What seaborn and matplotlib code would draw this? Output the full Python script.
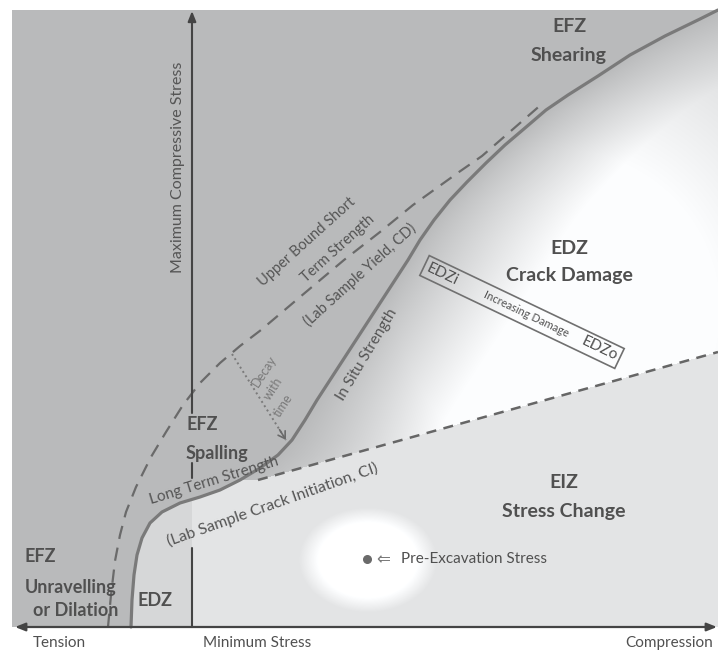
import numpy as np
import matplotlib
matplotlib.use("Agg")
import matplotlib.pyplot as plt
import seaborn as sns
from matplotlib.patches import Polygon

sns.set_theme(style="white")
plt.rcParams["font.family"] = ["Lato", "DejaVu Sans"]

W, H = 718, 657          # canvas in pixels (x right, y down)
AXIS_Y = 627             # minimum-stress axis
AXIS_X = 192             # maximum-compressive-stress axis
TOP_Y = 10
LEFT_X = 12

# In situ strength envelope (solid), from the tension end upward
insitu_x = [131, 132, 134, 137, 142, 150, 162, 180, 200, 220, 240, 260, 278,
            292, 305, 317, 330, 343, 356, 369, 382, 395, 408, 420, 434, 450,
            467, 486, 505, 525, 546, 568, 598, 630, 665, 700, 718]
insitu_y = [627, 600, 575, 555, 538, 523, 512, 503, 497, 490, 480, 468, 455,
            440, 420, 400, 380, 360, 340, 320, 300, 280, 260, 240, 220, 200,
            182, 163, 145, 128, 110, 95, 76, 55, 36, 19, 10]

# Upper bound short term strength (lab sample yield, CD)
upper_x = [108, 111, 115, 120, 126, 136, 151, 166, 183, 200, 220, 240, 261,
           300, 344, 380, 413, 459, 482, 512, 543]
upper_y = [627, 595, 561, 535, 512, 487, 457, 432, 405, 383, 363, 346, 330,
           297, 260, 232, 205, 172, 156, 130, 103]

# Long term strength (lab sample crack initiation, CI)
ci_x = [258, 718]
ci_y = [480, 352]

# Strength decay with time
decay_x = [232, 286]
decay_y = [354, 440]

# Pre-excavation stress state
pre_x, pre_y = 367, 559

# Axis labels
tick_labels = ["Tension", "Minimum Stress", "Compression"]
tick_pos = [59, 257, 669]

# ---------------------------------------------------------------- background
yy, xx = np.mgrid[0:H, 0:W].astype(float) + 0.5
cx = np.interp(yy, insitu_y[::-1], insitu_x[::-1])
ci_line = np.interp(xx, ci_x, ci_y)

inside = (yy >= TOP_Y) & (yy <= AXIS_Y) & (xx >= LEFT_X)
left = xx < cx
edz = inside & ~left & (yy < ci_line)
eiz = inside & ~left & (yy >= ci_line)

G = 185.0
val = np.full((H, W), 255.0)
val[inside & left] = G

d = xx - cx
f = np.clip(d / 140.0, 0, 1) ** 0.9
r = np.hypot(xx - 560, yy - 310)
w = 1 - 0.7 * np.clip((r - 160) / 220.0, 0, 1)
val[edz] = (G + (252 - G) * f * w)[edz]

eiz_val = np.where(xx < AXIS_X, 214.0, 227.0)
e = np.sqrt(((xx - 368) / 66.0) ** 2 + ((yy - 560) / 50.0) ** 2)
a = np.clip((1.05 - e) / 0.3, 0, 1)
eiz_val = eiz_val * (1 - a) + 255 * a
val[eiz] = eiz_val[eiz]

rgb = np.stack([val, np.minimum(val + 1, 255), np.minimum(val + 2, 255)], axis=-1)

fig = plt.figure(figsize=(W / 100, H / 100), dpi=100)
ax = fig.add_axes([0, 0, 1, 1])
ax.imshow(rgb.astype(np.uint8), extent=(0, W, H, 0), interpolation="bilinear")

# ---------------------------------------------------------------- envelopes
sns.lineplot(x=insitu_x, y=insitu_y, sort=False, estimator=None, ax=ax,
             color="#7a7a7a", linewidth=2.3, solid_joinstyle="round")
sns.lineplot(x=upper_x, y=upper_y, sort=False, estimator=None, ax=ax,
             color="#6a6a6a", linewidth=1.6, linestyle=(0, (6, 4)))
sns.lineplot(x=ci_x, y=ci_y, sort=False, estimator=None, ax=ax,
             color="#666666", linewidth=1.8, linestyle=(0, (4, 3)))

# decay with time (dotted arrow)
ax.plot(decay_x, decay_y, color="#7a7a7a", linewidth=1.4, linestyle=(0, (1, 1.6)))
ax.annotate("", xy=(decay_x[1], decay_y[1]),
            xytext=(decay_x[1] - 0.12 * (decay_x[1] - decay_x[0]),
                    decay_y[1] - 0.12 * (decay_y[1] - decay_y[0])),
            arrowprops=dict(arrowstyle="->,head_length=0.4,head_width=0.25",
                            color="#6a6a6a", lw=1.2, shrinkA=0, shrinkB=0))

# ---------------------------------------------------------------- axes
ax.annotate("", xy=(15, AXIS_Y), xytext=(717, AXIS_Y),
            arrowprops=dict(arrowstyle="<|-|>,head_length=0.5,head_width=0.2",
                            color="#444444", lw=1.6, shrinkA=0, shrinkB=0))
ax.annotate("", xy=(AXIS_X, TOP_Y + 1), xytext=(AXIS_X, 413),
            arrowprops=dict(arrowstyle="-|>,head_length=0.5,head_width=0.2",
                            color="#444444", lw=1.5, shrinkA=0, shrinkB=0))
for y0, y1 in [(463, 478), (548, AXIS_Y)]:
    ax.plot([AXIS_X, AXIS_X], [y0, y1], color="#444444", lw=1.5)

# pre-excavation stress point
ax.scatter([pre_x], [pre_y], s=30, color="#6a6a6a", zorder=5)
ax.text(pre_x + 9, pre_y, "\u21d0", family="DejaVu Sans", fontsize=12,
        color="#7a7a7a", ha="left", va="center")
ax.text(pre_x + 34, pre_y, "Pre-Excavation Stress", fontsize=11,
        color="#505050", ha="left", va="center")

# ---------------------------------------------------------------- labels
bold = dict(fontsize=14, fontweight="bold", color="#505050", ha="center", va="center")
ax.text(569, 27, "EFZ", **bold)
ax.text(569, 55, "Shearing", **bold)
ax.text(569, 248, "EDZ", **bold)
ax.text(569, 275, "Crack Damage", **bold)
ax.text(564, 483, "EIZ", **bold)
ax.text(564, 511, "Stress Change", **bold)

small_bold = dict(fontsize=13, fontweight="bold", color="#505050", va="center")
ax.text(186, 424, "EFZ", ha="left", **small_bold)
ax.text(186, 454, "Spalling", ha="left", **small_bold)
ax.text(25, 557, "EFZ", ha="left", **small_bold)
ax.text(25, 587, "Unravelling", ha="left", **small_bold)
ax.text(76, 611, "or Dilation", ha="center", **small_bold)
ax.text(155, 600, "EDZ", ha="center", **small_bold)

ax.text(178, 167, "Maximum Compressive Stress", rotation=90, fontsize=11.5,
        color="#555555", ha="center", va="center")

for lab, xp in zip(tick_labels, tick_pos):
    ax.text(xp, 643, lab, fontsize=11, color="#505050", ha="center", va="center")

rot = dict(ha="center", va="center", rotation_mode="anchor")
ax.text(307, 242, "Upper Bound Short", rotation=42, fontsize=10.5, color="#555555", **rot)
ax.text(338, 249, "Term Strength", rotation=42, fontsize=10.5, color="#555555", **rot)
ax.text(360, 275, "(Lab Sample Yield, CD)", rotation=42, fontsize=10.5, color="#555555", **rot)
ax.text(367, 355, "In Situ Strength", rotation=59, fontsize=11, color="#555555", **rot)
ax.text(214, 481, "Long Term Strength", rotation=17, fontsize=11, color="#555555", **rot)
ax.text(272, 505, "(Lab Sample Crack Initiation, CI)", rotation=19.5, fontsize=11.5,
        color="#555555", **rot)

for txt, xp, yp in [("Decay", 264, 371), ("with", 273, 389), ("time", 283, 405)]:
    ax.text(xp, yp, txt, rotation=57, fontsize=9, color="#7a7a7a", **rot)

# EDZi / EDZo band
theta = np.deg2rad(25.5)
u = np.array([np.cos(theta), np.sin(theta)])
nrm = np.array([-np.sin(theta), np.cos(theta)])
c = np.array([522.0, 312.0])
L, Wd = 216.0, 22.0
corners = [c - L / 2 * u - Wd / 2 * nrm, c + L / 2 * u - Wd / 2 * nrm,
           c + L / 2 * u + Wd / 2 * nrm, c - L / 2 * u + Wd / 2 * nrm]
ax.add_patch(Polygon(corners, closed=True, fill=False, edgecolor="#707070", lw=1.2))
for txt, off, fs in [("EDZi", -88, 11), ("Increasing Damage", 5, 8), ("EDZo", 86, 11)]:
    p = c + off * u
    ax.text(p[0], p[1], txt, rotation=-25.5, fontsize=fs, color="#505050", **rot)

ax.set_xlim(0, W)
ax.set_ylim(H, 0)
ax.axis("off")
fig.savefig("out.png", dpi=100)
